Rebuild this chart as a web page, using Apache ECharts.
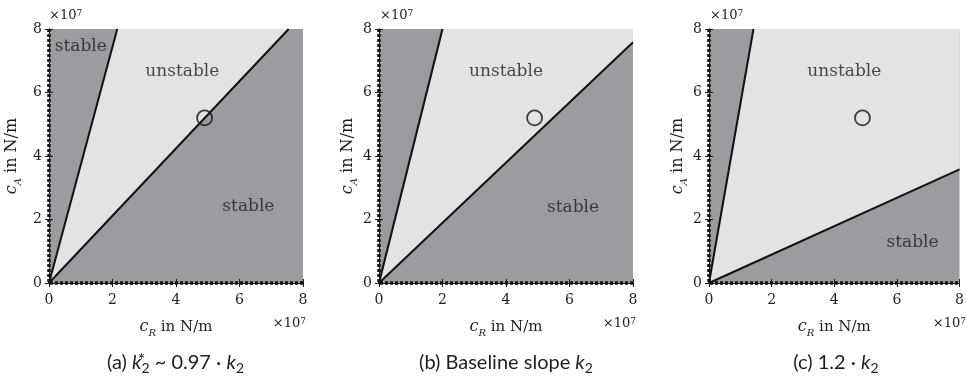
<!DOCTYPE html>
<html>
<head>
<meta charset="utf-8">
<script src="https://cdn.jsdelivr.net/npm/echarts@6/dist/echarts.min.js"></script>
<style>html,body{margin:0;padding:0;background:#fff}#c{width:967px;height:376px}</style>
</head>
<body>
<div id="c"></div>
<script>
// ---- data ----
const xTicks = [0, 2, 4, 6, 8];          // c_R ticks (x 1e7 N/m)
const yTicks = [0, 2, 4, 6, 8];          // c_A ticks (x 1e7 N/m)
const panelCaptions = ['(a)', '(b)', '(c)'];
// x where the steep stability boundary reaches c_A = 8
const steepBoundaryTop = [2.15, 2.0, 1.42];
// end point of the shallow boundary (starts at origin)
const shallowBoundaryEnd = [[7.55, 8], [8, 7.58], [8, 3.58]];
// operating point (same in all panels)
const operatingPoint = [4.9, 5.2];
// region annotations [x, y, text]
const regionLabels = [
  [[1.0, 7.44, 'stable'], [4.2, 6.65, 'unstable'], [6.28, 2.41, 'stable']],
  [[4.0, 6.65, 'unstable'], [6.11, 2.39, 'stable']],
  [[4.32, 6.65, 'unstable'], [6.5, 1.28, 'stable']]
];

// ---- layout ----
const grids = [
  {left: 48, top: 29, width: 255, height: 254},
  {left: 379, top: 29, width: 254, height: 254},
  {left: 709, top: 29, width: 254, height: 254}
];
const yNameGaps = [26, 20, 20];
const DARK = '#9b9c9f', LIGHT = '#e2e3e5';
const SERIF = 'DejaVu Serif';
const INK = '#1e1e1e';

const chart = echarts.init(document.getElementById('c'));
const xAxis = [], yAxis = [], series = [];
const nameRich = {
  i: {fontStyle: 'italic', fontFamily: SERIF, fontSize: 16, lineHeight: 22, color: INK},
  sub: {fontStyle: 'italic', fontFamily: SERIF, fontSize: 10, lineHeight: 11, verticalAlign: 'bottom', color: INK}
};
grids.forEach((g, i) => {
  const base = {min: 0, max: 8, interval: 2, splitLine: {show: false},
    axisLine: {show: true, lineStyle: {color: INK, width: 1}},
    axisTick: {show: true, inside: true, length: 4, lineStyle: {color: INK}}};
  xAxis.push(Object.assign({}, base, {type: 'value', gridIndex: i, position: 'bottom',
    axisLabel: {margin: 10, color: INK, fontFamily: SERIF, fontSize: 14},
    name: '{i|c}{sub|R} in N/m', nameLocation: 'middle', nameGap: 33,
    nameTextStyle: {color: INK, fontFamily: SERIF, fontSize: 15, lineHeight: 22, rich: nameRich}}));
  xAxis.push(Object.assign({}, base, {type: 'value', gridIndex: i, position: 'top', axisLabel: {show: false}}));
  yAxis.push(Object.assign({}, base, {type: 'value', gridIndex: i, position: 'left',
    axisLabel: {margin: 7, color: INK, fontFamily: SERIF, fontSize: 14},
    name: '{i|c}{sub|A} in N/m', nameLocation: 'middle', nameGap: yNameGaps[i],
    nameTextStyle: {color: INK, fontFamily: SERIF, fontSize: 16, lineHeight: 22, rich: nameRich}}));
  yAxis.push(Object.assign({}, base, {type: 'value', gridIndex: i, position: 'right', axisLabel: {show: false}}));

  const xi = 2 * i, yi = 2 * i;
  // unstable region polygon
  const end = shallowBoundaryEnd[i];
  const poly = [[0, 0], [steepBoundaryTop[i], 8]];
  if (end[1] >= 8) poly.push(end); else { poly.push([8, 8]); poly.push(end); }
  series.push({type: 'custom', xAxisIndex: xi, yAxisIndex: yi, z: 1, silent: true,
    data: [0],
    renderItem: (params, api) => ({type: 'polygon',
      shape: {points: poly.map(p => api.coord(p))}, style: {fill: LIGHT}})
  });
  // boundaries
  series.push({type: 'line', xAxisIndex: xi, yAxisIndex: yi, z: 3, symbol: 'none', silent: true,
    data: [[0, 0], [steepBoundaryTop[i], 8]], lineStyle: {color: '#111', width: 2}});
  series.push({type: 'line', xAxisIndex: xi, yAxisIndex: yi, z: 3, symbol: 'none', silent: true,
    data: [[0, 0], end], lineStyle: {color: '#111', width: 2}});
  // dotted borders on the axes
  series.push({type: 'line', xAxisIndex: xi, yAxisIndex: yi, z: 5, symbol: 'none', silent: true, clip: false,
    data: [[0, 8], [0, 0], [8, 0]], lineStyle: {color: '#111', width: 3.5, type: [3, 2], cap: 'butt'}});
  // operating point
  series.push({type: 'scatter', xAxisIndex: xi, yAxisIndex: yi, z: 6, silent: true,
    data: [operatingPoint], symbol: 'circle', symbolSize: 15,
    itemStyle: {color: 'rgba(0,0,0,0)', borderColor: '#111', borderWidth: 1.8}});
  // region labels
  series.push({type: 'scatter', xAxisIndex: xi, yAxisIndex: yi, z: 7, silent: true, symbolSize: 0,
    data: regionLabels[i].map(r => ({value: [r[0], r[1]], name: r[2]})),
    label: {show: true, position: 'inside', formatter: p => p.name, color: INK,
      fontFamily: SERIF, fontSize: 17}});
});

const captionRich = {
  t: {fontFamily: 'Lato', fontSize: 20, color: INK, lineHeight: 24},
  k: {fontFamily: 'Lato', fontSize: 20, fontStyle: 'italic', color: INK, lineHeight: 24},
  sub: {fontFamily: 'Lato', fontSize: 14, color: INK, lineHeight: 12, verticalAlign: 'bottom'},
  sup: {fontFamily: 'Lato', fontSize: 18, color: INK, lineHeight: 14, verticalAlign: 'top', width: 0, align: 'left'}
};
const captionTexts = [
  '{t|' + panelCaptions[0] + ' }{k|k}{sup|*}{sub|2}{t| ~ 0.97 · }{k|k}{sub|2}',
  '{t|' + panelCaptions[1] + ' Baseline slope }{k|k}{sub|2}',
  '{t|' + panelCaptions[2] + ' 1.2 · }{k|k}{sub|2}'
];
const tenRich = {s: {fontFamily: SERIF, fontSize: 9, verticalAlign: 'top', lineHeight: 9, fill: INK, color: INK}};
const graphic = [];
grids.forEach((g, i) => {
  graphic.push({type: 'text', left: g.left + 1, top: 9, silent: true,
    style: {text: '×10{s|7}', fontFamily: SERIF, fontSize: 13, fill: INK, rich: tenRich}});
  graphic.push({type: 'text', right: 967 - (g.left + g.width) - 3, top: 317, silent: true,
    style: {text: '×10{s|7}', fontFamily: SERIF, fontSize: 13, fill: INK, rich: tenRich}});
  graphic.push({type: 'text', x: g.left + g.width / 2, y: 363, silent: true,
    style: {text: captionTexts[i], align: 'center', verticalAlign: 'middle', rich: captionRich,
      fontFamily: 'Lato', fontSize: 20, fill: INK}});
});

chart.setOption({
  animation: false,
  grid: grids.map(g => Object.assign({show: true, backgroundColor: DARK, borderWidth: 0}, g)),
  xAxis, yAxis, series, graphic
});
</script>
</body>
</html>
